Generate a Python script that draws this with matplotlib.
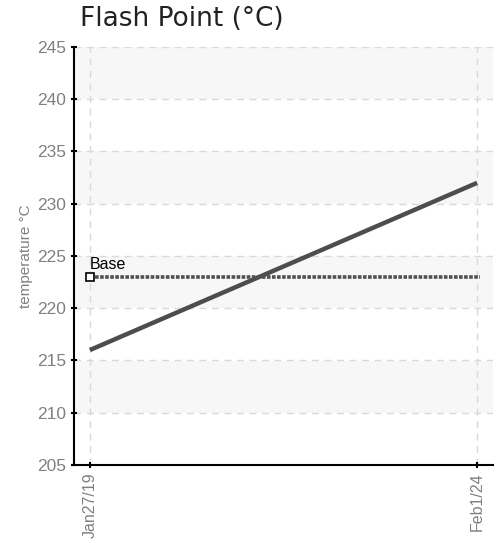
import numpy as np
import matplotlib.pyplot as plt

# chart data
dates = ['Jan27/19', 'Feb1/24']
flash_point = [216, 232]
base_value = 223
y_ticks = [205, 210, 215, 220, 225, 230, 235, 240, 245]

NARROW = ['Liberation Sans', 'DejaVu Sans']

fig = plt.figure(figsize=(5.03, 5.43), dpi=100)
ax = fig.add_axes([74 / 503, 1 - 465 / 543, (493 - 74) / 503, (465 - 47) / 543])

x = np.arange(len(dates))

# alternating background bands
for i in range(len(y_ticks) - 1):
    if i % 2 == 1:
        ax.axhspan(y_ticks[i], y_ticks[i + 1], color='#f7f7f7', zorder=0, lw=0)

ax.grid(True, color='#d9d9d9', linestyle=(0, (5, 4)), linewidth=1, zorder=1)

ax.plot(x, flash_point, color='#4d4d4d', linewidth=3.2, zorder=3, solid_capstyle='butt')

ax.plot([x[0], x[-1] + 0.008], [base_value, base_value], color='#505050',
        linewidth=2.6, linestyle=(0, (1, 0.4)), zorder=3)
ax.plot([x[0]], [base_value], marker='s', markersize=5.5, markerfacecolor='white',
        markeredgecolor='black', markeredgewidth=1.2, linestyle='none', zorder=4)
ax.text(x[0], base_value + 0.5, 'Base', fontsize=11.5, color='black', ha='left', va='bottom',
        zorder=5, family=NARROW)

ax.set_xlim(-0.041, 1.041)
ax.set_ylim(205, 245)
ax.set_yticks(y_ticks)
ax.set_xticks(x)
ax.set_xticklabels(dates, rotation=90, color='#808080', fontsize=11.5, family=NARROW)
ax.set_yticklabels([str(v) for v in y_ticks], color='#808080', fontsize=12.5, family=NARROW)
ax.tick_params(axis='both', length=5, width=1.5, color='black', direction='inout', pad=3)

for s in ['top', 'right']:
    ax.spines[s].set_visible(False)
for s in ['left', 'bottom']:
    ax.spines[s].set_linewidth(1.5)
    ax.spines[s].set_color('black')

ax.set_ylabel('temperature °C', color='#808080', fontsize=11, labelpad=3, family=NARROW)

fig.text(80 / 503, 1 - 19 / 543, 'Flash Point (°C)', fontsize=19, color='#222222',
         ha='left', va='center')

fig.savefig('out.png', dpi=100)
